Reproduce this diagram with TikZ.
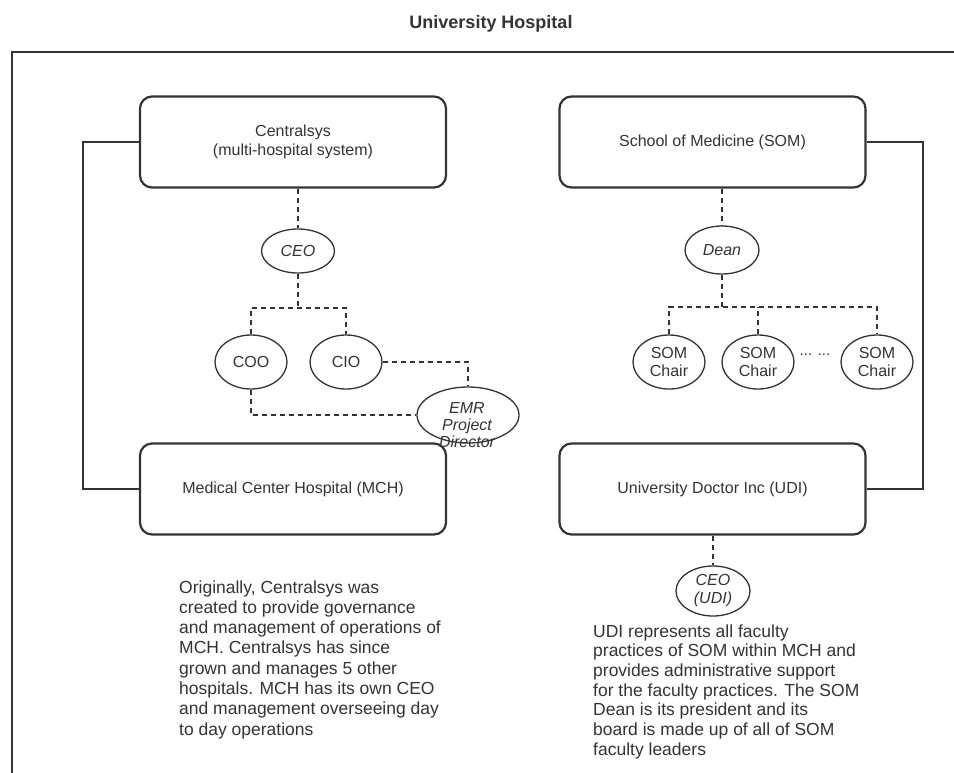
\documentclass[tikz,border=0pt]{standalone}
\usepackage{fontspec}
\setmainfont{Liberation Sans}
\usetikzlibrary{shapes.geometric}
\definecolor{ink}{HTML}{333333}
\begin{document}
\begin{tikzpicture}[x=1pt,y=-1pt,
  box/.style={draw=ink, line width=2.2pt, rounded corners=12pt, minimum width=306pt, minimum height=91pt, inner sep=0pt, align=center, text=ink, font=\fontsize{16}{19}\selectfont},
  oval/.style={draw=ink, line width=1.3pt, ellipse, inner sep=0pt, align=center, text=ink, font=\fontsize{16}{18}\selectfont},
  ovalit/.style={oval, font=\itshape\fontsize{16}{18}\selectfont},
  dline/.style={draw=ink, line width=2pt, dash pattern=on 5pt off 4pt},
  sline/.style={draw=ink, line width=2.6pt},
  para/.style={text=ink, anchor=base west, inner sep=0pt}
]
\useasboundingbox (0,0) rectangle (954,772);

% title
\node[anchor=base, text=ink, font=\bfseries\fontsize{18}{20}\selectfont] (title) at (491,28) {University Hospital};

% outer frame
\draw[ink, line width=2.6pt] (960,52) -- (12,52) -- (12,780);

% boxes
\node[box] (cs) at (293,142) {Centralsys\\(multi-hospital system)};
\node[box] (mch) at (293,489) {Medical Center Hospital (MCH)};
\node[box] (som) at (712.5,142) {School of Medicine (SOM)};
\node[box] (udi) at (712.5,489) {University Doctor Inc (UDI)};

% solid connectors
\coordinate (lx) at (83,0);
\coordinate (rx) at (923,0);
\draw[sline] (cs.west) -- (cs.west -| lx) -- (mch.west -| lx) -- (mch.west);
\draw[sline] (som.east) -- (som.east -| rx) -- (udi.east -| rx) -- (udi.east);

% left hierarchy
\node[ovalit, minimum width=73pt, minimum height=44pt] (ceo) at (298,251) {CEO};
\node[oval, minimum width=72pt, minimum height=54pt] (coo) at (251,362) {COO};
\node[oval, minimum width=72pt, minimum height=54pt] (cio) at (346,362) {CIO};
\node[oval, minimum width=102pt, minimum height=56pt] (emr) at (468,415) {};
\node[text=ink, align=center, inner sep=0pt, font=\itshape\fontsize{16}{17}\selectfont] (emrtext) at (467,425) {EMR\\Project\\Director};

\coordinate (cb) at (298,308);
\draw[dline] (cs.south -| ceo.north) -- (ceo.north);
\draw[dline] (ceo.south) -- (cb);
\draw[dline] (coo.north) -- (coo.north |- cb) -- (cio.north |- cb) -- (cio.north);
\draw[dline] (cio.east) -| (emr.north);
\draw[dline] (coo.south) |- (emr.west);

% right hierarchy
\node[ovalit, minimum width=74pt, minimum height=48pt] (dean) at (722,250) {Dean};
\node[oval, minimum width=72pt, minimum height=54pt] (ch1) at (669,362) {SOM\\Chair};
\node[oval, minimum width=72pt, minimum height=54pt] (ch2) at (758,362) {SOM\\Chair};
\node[oval, minimum width=72pt, minimum height=54pt] (ch3) at (877,362) {SOM\\Chair};
\node[text=ink, inner sep=0pt, font=\fontsize{15}{17}\selectfont] (dots) at (815,355) {... ...};

\coordinate (db) at (722,307);
\draw[dline] (som.south -| dean.north) -- (dean.north);
\draw[dline] (dean.south) -- (db);
\draw[dline] (ch1.north) -- (ch1.north |- db) -- (ch3.north |- db) -- (ch3.north);
\draw[dline] (ch2.north) -- (ch2.north |- db);

% UDI CEO
\node[ovalit, minimum width=74pt, minimum height=50pt] (ceou) at (713,591) {CEO\\(UDI)};
\draw[dline] (udi.south -| ceou.north) -- (ceou.north);

% paragraphs
\node[para] (ptxt) at (179,593) {\parbox[t]{320pt}{\raggedright\fontsize{17.5}{20.3}\selectfont
Originally, Centralsys was\\
created to provide governance\\
and management of operations of\\
MCH. Centralsys has since\\
grown and manages 5 other\\
hospitals. MCH has its own CEO\\
and management overseeing day\\
to day operations}};

\node[para] (utxt) at (593,637) {\parbox[t]{340pt}{\raggedright\fontsize{17.5}{19.7}\selectfont
UDI represents all faculty\\
practices of SOM within MCH and\\
provides administrative support\\
for the faculty practices. The SOM\\
Dean is its president and its\\
board is made up of all of SOM\\
faculty leaders}};
\end{tikzpicture}
\end{document}
